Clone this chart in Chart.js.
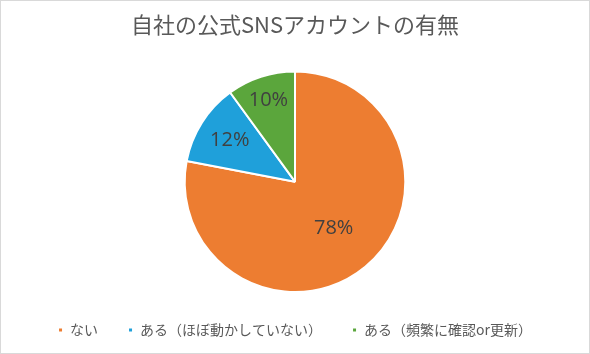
<!DOCTYPE html>
<html lang="ja">
<head>
<meta charset="utf-8">
<script src="https://cdn.jsdelivr.net/npm/chart.js@4"></script>
<style>
  html, body { margin: 0; padding: 0; background: #fff; }
  .frame {
    position: absolute; left: 0; top: 0;
    width: 588px; height: 352px;
    border: 1px solid #d9d9d9;
  }
  canvas { display: block; }
</style>
</head>
<body>
<div class="frame"><canvas id="pie" width="588" height="352"></canvas></div>
<script>
'use strict';

// ── Data ────────────────────────────────────────────────────────────────────
const TITLE = '自社の公式SNSアカウントの有無';
const categories = ['ない', 'ある（ほぼ動かしていない）', 'ある（頻繁に確認or更新）'];
const shares = [78, 12, 10];

const COLORS = ['#ED7D31', '#1FA0DA', '#5BA63C'];
const LABEL_RADIUS = [0.55, 0.70, 0.78]; // where each % label sits, fraction of radius

const JP_FONT = "'Noto Sans CJK JP', 'Noto Sans', sans-serif";

// inline % labels, like the Excel data labels
const pctLabels = {
  id: 'pctLabels',
  afterDatasetsDraw(chart) {
    const { ctx } = chart;
    const meta = chart.getDatasetMeta(0);
    ctx.save();
    ctx.font = "20px 'Open Sans', sans-serif";
    ctx.fillStyle = '#404040';
    ctx.textAlign = 'center';
    ctx.textBaseline = 'middle';
    meta.data.forEach((arc, i) => {
      const mid = (arc.startAngle + arc.endAngle) / 2;
      const r = arc.outerRadius * LABEL_RADIUS[i];
      ctx.fillText(shares[i] + '%', arc.x + Math.cos(mid) * r, arc.y + Math.sin(mid) * r);
    });
    ctx.restore();
  }
};

new Chart(document.getElementById('pie'), {
  type: 'pie',
  data: {
    labels: categories,
    datasets: [{
      data: shares,
      backgroundColor: COLORS,
      borderColor: '#ffffff',
      borderWidth: 2
    }]
  },
  options: {
    responsive: false,
    animation: false,
    layout: { padding: { top: 0, bottom: 6 } },
    plugins: {
      title: {
        display: true,
        text: TITLE,
        color: '#595959',
        font: { family: JP_FONT, size: 22, weight: 'normal' },
        padding: { top: 10, bottom: 33 }
      },
      legend: {
        position: 'bottom',
        labels: {
          color: '#595959',
          font: { family: JP_FONT, size: 14 },
          boxWidth: 5,
          boxHeight: 5,
          padding: 30
        }
      },
      tooltip: { enabled: false }
    }
  },
  plugins: [pctLabels]
});
</script>
</body>
</html>
